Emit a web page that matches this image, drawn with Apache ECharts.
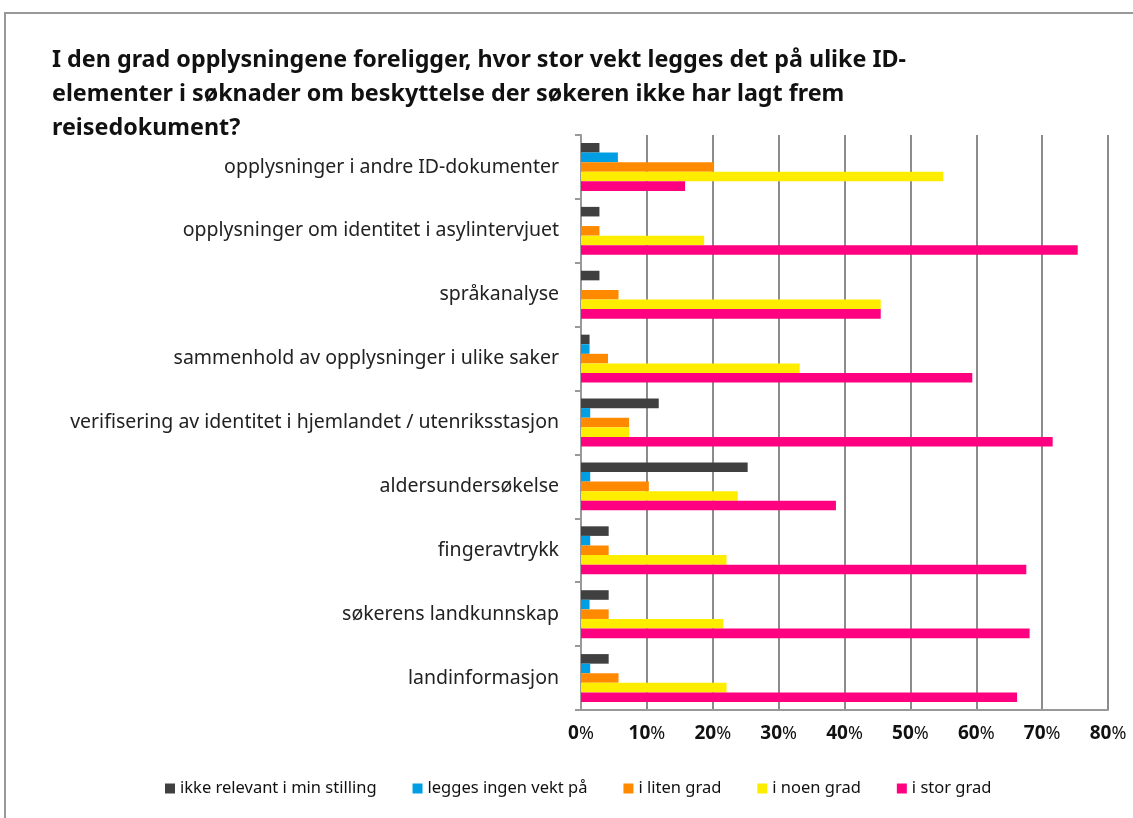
<!DOCTYPE html>
<html>
<head>
<meta charset="utf-8">
<script src="https://cdn.jsdelivr.net/npm/echarts@6/dist/echarts.min.js"></script>
<style>
  html, body { margin: 0; padding: 0; background: #fff; }
  #chart { width: 1133px; height: 818px; }
</style>
</head>
<body>
<div id="chart"></div>
<script>
// kategorier, ovenfra og ned
var categories = [
  "opplysninger i andre ID-dokumenter",
  "opplysninger om identitet i asylintervjuet",
  "språkanalyse",
  "sammenhold av opplysninger i ulike saker",
  "verifisering av identitet i hjemlandet / utenriksstasjon",
  "aldersundersøkelse",
  "fingeravtrykk",
  "søkerens landkunnskap",
  "landinformasjon"
];
var seriesNames = ["ikke relevant i min stilling", "legges ingen vekt på", "i liten grad", "i noen grad", "i stor grad"];
var ikkeRelevant = [2.8, 2.8, 2.8, 1.3, 11.8, 25.3, 4.2, 4.2, 4.2];
var ingenVekt    = [5.6, 0,   0,   1.3, 1.4,  1.4,  1.4, 1.3, 1.4];
var litenGrad    = [20.2, 2.8, 5.7, 4.1, 7.3, 10.3, 4.2, 4.2, 5.7];
var noenGrad     = [55.0, 18.7, 45.5, 33.2, 7.3, 23.8, 22.1, 21.6, 22.1];
var storGrad     = [15.8, 75.4, 45.5, 59.4, 71.6, 38.7, 67.6, 68.1, 66.2];
var xTicks = [0, 10, 20, 30, 40, 50, 60, 70, 80];

var colors = ["#404040", "#009fe3", "#ff8a00", "#ffed00", "#ff0080"];
var font = '"Noto Sans", "Open Sans", sans-serif';

var myChart = echarts.init(document.getElementById("chart"));
var values = [ikkeRelevant, ingenVekt, litenGrad, noenGrad, storGrad];

var option = {
  animation: false,
  color: colors,
  title: {
    text: "I den grad opplysningene foreligger, hvor stor vekt legges det på ulike ID-\nelementer i søknader om beskyttelse der søkeren ikke har lagt frem\nreisedokument?",
    left: 52,
    top: 43,
    padding: 0,
    textStyle: {
      fontFamily: font,
      fontSize: 23.3,
      fontWeight: "bold",
      color: "#111",
      lineHeight: 34
    }
  },
  graphic: [
    {
      type: "rect",
      shape: { x: 5, y: 13, width: 1150, height: 820 },
      style: { fill: "none", stroke: "#999", lineWidth: 2 },
      silent: true
    }
  ],
  legend: {
    data: seriesNames,
    bottom: 16,
    left: 160,
    icon: "rect",
    itemWidth: 10,
    itemHeight: 10,
    itemGap: 36,
    textStyle: { fontFamily: font, fontSize: 16.5, color: "#111" }
  },
  grid: {
    left: 581,
    right: 25,
    top: 135,
    bottom: 108
  },
  xAxis: {
    type: "value",
    min: xTicks[0],
    max: xTicks[xTicks.length - 1],
    interval: 10,
    axisLine: { show: true, lineStyle: { color: "#999", width: 2 } },
    axisTick: { show: false },
    splitLine: { show: true, lineStyle: { color: "#8c8c8c", width: 2 } },
    axisLabel: {
      margin: 14,
      formatter: function (v) { return "{b|" + v + "}{p|%}"; },
      rich: {
        b: { fontFamily: font, fontSize: 19, fontWeight: "bold", color: "#111" },
        p: { fontFamily: font, fontSize: 18, color: "#111" }
      }
    }
  },
  yAxis: {
    type: "category",
    inverse: true,
    data: categories,
    axisLine: { show: true, lineStyle: { color: "#999", width: 2 } },
    axisTick: { show: true, length: 6, lineStyle: { color: "#999", width: 2 } },
    axisLabel: {
      margin: 22,
      fontFamily: font,
      fontSize: 19.5,
      color: "#222"
    }
  },
  series: seriesNames.map(function (name, i) {
    return {
      name: name,
      type: "bar",
      data: values[i],
      barGap: "0%",
      barCategoryGap: "25%"
    };
  })
};
myChart.setOption(option);
window.addEventListener("resize", function () {
  myChart.resize();
});
</script>
</body>
</html>
